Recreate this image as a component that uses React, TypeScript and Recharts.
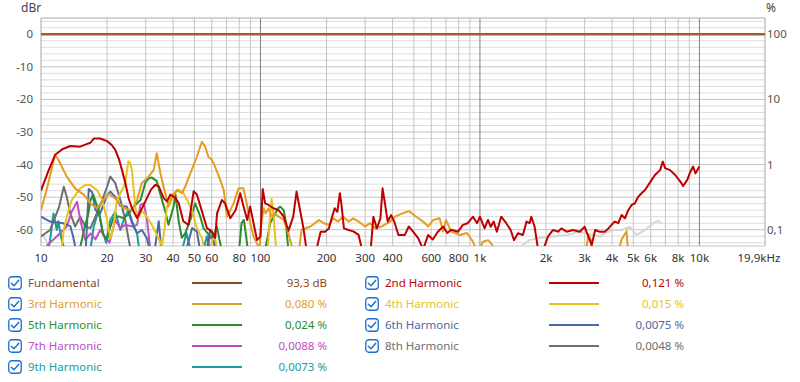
import React from 'react';
import { LineChart, Line, XAxis, YAxis, ReferenceLine } from 'recharts';

const FONT = '"Noto Sans", "Open Sans", sans-serif';

// ---- axes ----
const xTicks = [10, 20, 30, 40, 50, 60, 80, 100, 200, 300, 400, 600, 800, 1000, 2000, 3000, 4000, 5000, 6000, 8000, 10000, 19900];
const xTickLabels = ['10', '20', '30', '40', '50', '60', '80', '100', '200', '300', '400', '600', '800', '1k', '2k', '3k', '4k', '5k', '6k', '8k', '10k', '19,9kHz'];
const yTicks = [0, -10, -20, -30, -40, -50, -60];
const pctTicks = [0, -20, -40, -60];
const pctLabels = ['100', '10', '1', '0,1'];
const freqGrid = [20, 30, 40, 50, 60, 70, 80, 90, 200, 300, 400, 500, 600, 700, 800, 900, 2000, 3000, 4000, 5000, 6000, 7000, 8000, 9000];
const decadeGrid = [100, 1000, 10000];
const dbGrid = [4, 2, -2, -4, -6, -8, -12, -14, -16, -18, -22, -24, -26, -28, -32, -34, -36, -38, -42, -44, -46, -48, -52, -54, -56, -58, -62, -64];
const dbMajorGrid = [-10, -20, -30, -40, -50, -60];

// ---- series ----
const fundFreq = [10, 19900];
const fundDb = [0, 0];

const h2Freq = [10, 10.8, 11.6, 12.5, 13.6, 15.1, 16, 16.8, 17.4, 18.6, 20, 21, 21.8, 22.7, 23.4, 24.2, 25.1, 26, 27.4, 29.4, 31.7, 33.2, 34.4, 36.2, 37.5, 38.9, 41, 42.4, 44.5, 47, 49.6, 51.3, 54.1, 57, 60, 62.2, 63.4, 66.7, 69, 72.9, 77, 80.9, 83, 87, 89.8, 93, 96.5, 99.9, 102.4, 105, 108.8, 114.5, 121, 127.6, 134.2, 141, 146, 150, 157, 162, 180, 188, 197, 205, 212, 218, 224, 230, 234, 240, 252, 265, 280, 290, 318, 327, 339, 352, 360, 370, 380, 394, 407, 425, 455, 474, 495, 523, 551, 581, 610, 643, 680, 710, 740, 795, 836, 880, 930, 970, 1000, 1050, 1088, 1120, 1155, 1194, 1250, 1318, 1380, 1430, 1490, 1570, 1630, 1683, 1713, 1775, 1840, 1950, 2040, 2150, 2270, 2350, 2480, 2660, 2850, 3000, 3120, 3230, 3350, 3500, 3700, 3850, 3980, 4120, 4270, 4420, 4580, 4740, 4910, 5080, 5260, 5450, 5650, 5850, 6060, 6270, 6620, 6810, 6980, 7350, 7760, 8200, 8430, 8800, 9100, 9360, 9600, 10000];
const h2Db = [-48, -42, -37, -35.3, -34.3, -34.5, -33.8, -33.3, -32, -32, -32.8, -34, -35.5, -38.5, -41.7, -45.5, -50.5, -53.5, -56.4, -52.3, -47.7, -46.2, -46.7, -50.3, -51.3, -49.2, -50.3, -51.8, -57.4, -58.5, -48.2, -49.2, -54.3, -59.5, -60.5, -62.5, -55, -50.9, -51.9, -56.5, -54, -48.8, -51.9, -57, -52.9, -58, -63.2, -62.1, -47.5, -51.9, -52.4, -53.4, -54, -56, -60.3, -56, -48.3, -52.4, -59.6, -66, -66, -60.6, -60.6, -59.6, -56, -53.4, -54.5, -48.8, -52.4, -59.6, -60.1, -60.5, -61.6, -66, -66, -56, -59.6, -56.5, -47.3, -52.4, -57.5, -55.5, -57.5, -61.6, -61.6, -59, -60.5, -62.6, -66, -61.6, -63, -60.6, -59, -61, -60, -60.6, -58.5, -58, -56, -58, -56, -59.6, -57, -59.1, -57.5, -60.6, -56, -58, -60.1, -63.2, -61.1, -61.6, -57.5, -58, -56, -59.1, -66, -66, -62.1, -60.1, -60.6, -59.6, -60.6, -60.1, -60.6, -59.1, -62.1, -64.7, -60.1, -60.6, -60.6, -59.6, -58.5, -57.5, -58, -55.5, -56.5, -54, -52.4, -51.9, -49.9, -48.8, -47.8, -46.3, -44.7, -43.2, -41.7, -39.1, -41.1, -41.7, -43.2, -45.3, -46.6, -44.7, -42.2, -40.6, -42.7, -40.6];

const h3Freq = [10, 10.7, 11.3, 11.6, 12, 13.1, 14.3, 15.7, 16.8, 18, 19.3, 20.3, 21.8, 23.4, 24.6, 26, 27.4, 28.8, 30.9, 32.6, 33.7, 35, 36.2, 38.1, 39.5, 41.6, 43.8, 45.4, 47.9, 51.3, 54.1, 56, 57.9, 60, 62.2, 65.6, 68, 69.2, 70.3, 72.9, 75.4, 79.5, 83.6, 86.6, 89.8, 93, 96.3, 99, 101, 103.4, 105.5, 108.8, 112.4, 116, 121, 127.6, 134, 140, 150, 154, 169, 185, 194, 205, 215, 226, 238, 252, 265, 280, 300, 316, 333, 357, 390, 410, 443, 475, 500, 551, 581, 613, 655, 680, 700, 740, 810, 873, 930, 960, 1000, 1030, 1090, 1125, 1165, 3050, 3120, 3200, 3260, 4300, 4420, 4560, 4660, 4720];
const h3Db = [-54, -46.8, -40, -37, -38.5, -43.7, -47.3, -49.3, -51.9, -53.4, -50.9, -49, -50.4, -52.9, -53.7, -54, -50.9, -45.7, -43.7, -41.7, -36.5, -42.7, -46.8, -52.9, -50.4, -47.8, -48.8, -46.8, -42.7, -37.6, -33, -34.5, -37.6, -38.5, -40.8, -44.7, -47.8, -51.9, -56, -54, -51.9, -47.3, -47.3, -51.9, -58, -62.1, -64.2, -66, -58, -53.4, -55, -53.4, -56, -55, -56, -57, -61, -66, -66, -60, -59, -57, -58, -58.5, -56.5, -57.5, -56, -57.5, -56.5, -57.5, -59, -58, -59.6, -59, -57.5, -56, -55, -54.3, -55.5, -57.5, -59, -57, -56.5, -60.6, -57, -60.6, -61.6, -61, -63.7, -66, -66, -63.7, -63.2, -64.2, -66, -66, -61.5, -63, -66, -66, -63, -61.5, -60.5, -66];

const h4Freq = [10, 12.4, 12.7, 13.1, 13.8, 15.1, 15.9, 16.8, 18, 19, 20, 20.7, 21.4, 22.2, 23.4, 24.2, 25, 25.5, 26, 26.9, 27.8, 28.8, 29.9, 32, 34, 35.6, 36.5, 37.5, 39.5, 42.4, 44.5, 46.5, 48.8, 51.3, 54.1, 55.5, 59, 60.5, 62, 63.5, 108, 110, 112.4, 114.5, 116, 118, 200];
const h4Db = [-70, -66, -60, -56, -50.9, -47.3, -46.3, -46.3, -47.8, -50.9, -57, -62.6, -59, -50.9, -47.8, -45.7, -39, -39.5, -42.1, -53.3, -56.4, -54.3, -55.4, -58.5, -62, -65, -60, -53, -49.2, -47.7, -48.7, -51, -54.3, -59.5, -62.5, -66, -66, -63, -62.5, -66, -66, -58, -50.5, -55, -60, -66, -70];

const h5Freq = [10, 15, 15.3, 15.9, 16.4, 16.8, 17.3, 17.9, 18.6, 19.2, 20, 20.6, 21.4, 22.5, 23.7, 25, 26, 28.4, 29.9, 31, 32, 33.7, 35, 36.8, 38.1, 40.2, 41, 42.4, 43.8, 45.4, 47.9, 50.4, 53.2, 55, 59, 61, 63.3, 65, 66.5, 80, 82, 84, 86, 87.5, 105, 108, 110.6, 116, 120, 123, 127.6, 130, 132, 134, 200];
const h5Db = [-70, -66, -63.6, -58.5, -55.4, -50.9, -49.2, -52.3, -56.4, -61.5, -63, -59.5, -56.4, -55.9, -56.4, -55.4, -53.4, -50.9, -45.5, -44.2, -44, -45.1, -49.2, -54.3, -58.5, -52.8, -49.2, -57.4, -62.5, -61.1, -57, -51.9, -56, -59.5, -62.1, -62, -59, -63, -66, -66, -58, -57, -62, -66, -66, -62, -58, -55.5, -53.5, -52.9, -54, -57, -61.6, -66, -70];

const h6Freq = [10, 11, 12.6, 13.6, 14, 14.4, 16, 16.5, 17.1, 17.7, 18.6, 20, 20.7, 21.8, 23, 24.6, 26, 27.4, 28.8, 30.4, 31.2, 33, 34.4, 35.3, 46, 48.8, 51.3, 53, 57, 59, 61, 62.5, 200];
const h6Db = [-56, -57.5, -58, -58.9, -62, -66, -66, -47.5, -48.5, -54, -55, -49.3, -48.3, -49.9, -52.7, -52.9, -58, -61.1, -60.1, -62.6, -66, -66, -57.4, -66, -66, -59.5, -60.5, -66, -66, -60, -62, -66, -70];

const h7Freq = [10, 10.7, 11.8, 13.1, 13.8, 14.6, 15.1, 15.9, 16.8, 17.7, 18.6, 19.5, 20.5, 21.8, 23, 24.2, 26, 27.4, 28.4, 29.4, 30.4, 31.5, 57, 59, 61, 62, 200];
const h7Db = [-70, -64.7, -62.1, -59, -54.5, -51.4, -57, -63.2, -61.1, -63, -60.1, -62, -64, -57, -59.6, -58.5, -59, -58.5, -52.4, -51.9, -57, -66, -66, -62, -63, -66, -70];

const h8Freq = [10, 11, 12.1, 12.7, 13.1, 13.6, 14.3, 15.1, 15.9, 16.8, 17.7, 19, 20, 20.7, 21.8, 23, 24.2, 25, 25.6, 200];
const h8Db = [-62.1, -60.1, -52.9, -46.8, -49.9, -55, -59, -56, -59, -59.5, -56, -50.9, -46.8, -43.7, -45.7, -50.9, -57, -62.5, -66, -70];

const h9Freq = [10, 10.8, 11, 11.4, 11.8, 12, 12.4, 12.8, 16.8, 17.4, 18.3, 19, 19.8, 20.7, 21.8, 23, 23.8, 25, 26.2, 27.4, 28, 44, 46, 48, 55, 57, 59, 200];
const h9Db = [-70, -66, -63.2, -55, -60.1, -57.4, -63, -66, -66, -59, -54, -60.1, -64, -57, -54.5, -60.1, -57, -54, -58, -61.1, -66, -66, -61, -66, -66, -62, -66, -70];

const hxFreq = [10, 10.5, 11, 12, 1400, 1500, 1570, 1683, 1840, 2150, 2480, 2850, 3200, 3500, 3700, 4050, 4420, 4830, 5170, 5650, 6170, 6500, 6740];
const hxDb = [-61, -63, -66, -70, -70, -66, -64.7, -63.2, -62.6, -62.1, -61.6, -60.6, -61.5, -62.1, -61.1, -60.1, -60.1, -59.1, -61.6, -60.1, -58, -57.2, -58.3];

const toData = (fs: number[], vs: number[]) => fs.map((f, i) => ({ f, v: vs[i] }));

const series = [
  { key: 'hx', color: '#d6d6d6', data: toData(hxFreq, hxDb), w: 2 },
  { key: 'h9', color: '#1a9c9c', data: toData(h9Freq, h9Db), w: 2 },
  { key: 'h8', color: '#6e6e6e', data: toData(h8Freq, h8Db), w: 2 },
  { key: 'h7', color: '#c64fc6', data: toData(h7Freq, h7Db), w: 2 },
  { key: 'h6', color: '#4a69a8', data: toData(h6Freq, h6Db), w: 2 },
  { key: 'h5', color: '#2c8c2c', data: toData(h5Freq, h5Db), w: 2 },
  { key: 'h4', color: '#e6c41c', data: toData(h4Freq, h4Db), w: 2 },
  { key: 'h3', color: '#e49d1f', data: toData(h3Freq, h3Db), w: 2 },
  { key: 'h2', color: '#c00000', data: toData(h2Freq, h2Db), w: 2 },
  { key: 'fund', color: '#a95a26', data: toData(fundFreq, fundDb), w: 2.5 },
];

// ---- legend ----
const legendLeft = [
  { name: 'Fundamental', value: '93,3 dB', color: '#8b4a1c', line: '#8b4a1c' },
  { name: '3rd Harmonic', value: '0,080 %', color: '#e0a030', line: '#e0a030' },
  { name: '5th Harmonic', value: '0,024 %', color: '#2c8c2c', line: '#2c8c2c' },
  { name: '7th Harmonic', value: '0,0088 %', color: '#c04dc0', line: '#c04dc0' },
  { name: '9th Harmonic', value: '0,0073 %', color: '#1a9c9c', line: '#1a9c9c' },
];
const legendRight = [
  { name: '2nd Harmonic', value: '0,121 %', color: '#c00000', line: '#c00000' },
  { name: '4th Harmonic', value: '0,015 %', color: '#e6c41c', line: '#e6c41c' },
  { name: '6th Harmonic', value: '0,0075 %', color: '#4a69a8', line: '#4a69a8' },
  { name: '8th Harmonic', value: '0,0048 %', color: '#6e6e6e', line: '#6e6e6e' },
];

const CheckBox = () => (
  <svg width={14} height={14} viewBox="0 0 14 14" style={{ position: 'absolute', left: 0, top: 0 }}>
    <rect x={0.75} y={0.75} width={12.5} height={12.5} rx={3} fill="#fff" stroke="#1b6fd0" strokeWidth={1.3} />
    <path d="M3.3 7.2 L6 9.8 L10.8 4.3" fill="none" stroke="#1b6fd0" strokeWidth={1.4} strokeLinecap="round" strokeLinejoin="round" />
  </svg>
);

type Item = { name: string; value: string; color: string; line: string };

const LegendRow = ({ item, left, top }: { item: Item; left: number; top: number }) => (
  <div style={{ position: 'absolute', left, top, width: 320, height: 20 }}>
    <div style={{ position: 'absolute', left: 0, top: 3 }}><CheckBox /></div>
    <div style={{ position: 'absolute', left: 20, top: 0, fontSize: 11.5, lineHeight: '20px', color: item.color, whiteSpace: 'nowrap' }}>{item.name}</div>
    <div style={{ position: 'absolute', left: 184, top: 9, width: 50, height: 2, background: item.line }} />
    <div style={{ position: 'absolute', left: 220, width: 99, top: 0, fontSize: 11.5, lineHeight: '20px', color: item.color, textAlign: 'right', whiteSpace: 'nowrap' }}>{item.value}</div>
  </div>
);

const XTick = (props: any) => {
  const { x, y, payload } = props;
  const i = xTicks.indexOf(payload.value);
  const last = i === xTicks.length - 1;
  return (
    <text x={x} y={y} dx={last ? -6 : 0} dy="0.71em" textAnchor="middle" fontSize={11.5} fill="#333" fontFamily={FONT}>
      {xTickLabels[i]}
    </text>
  );
};

const LTick = (props: any) => {
  const { x, y, payload } = props;
  return (
    <text x={x} y={y} dy="0.35em" textAnchor="end" fontSize={11.5} fill="#555" fontFamily={FONT}>
      {String(payload.value)}
    </text>
  );
};

const RTick = (props: any) => {
  const { x, y, payload } = props;
  const i = pctTicks.indexOf(payload.value);
  return (
    <text x={x} y={y} dy="0.35em" textAnchor="start" fontSize={11.5} fill="#555" fontFamily={FONT}>
      {pctLabels[i]}
    </text>
  );
};

export default function App() {
  return (
    <div style={{ position: 'absolute', left: 0, top: 0, width: 800, height: 382, background: '#fff', fontFamily: FONT, overflow: 'hidden' }}>
      <div style={{ position: 'absolute', left: 21, top: 0, fontSize: 12, lineHeight: '16px', color: '#444' }}>dBr</div>
      <div style={{ position: 'absolute', left: 766, top: 0, fontSize: 12, lineHeight: '16px', color: '#444' }}>%</div>
      <div style={{ position: 'absolute', left: 0, top: 0 }}>
        <LineChart width={800} height={270} margin={{ top: 18, right: 0, bottom: 0, left: 0 }}>
          <XAxis
            dataKey="f"
            type="number"
            scale="log"
            domain={[10, 19900]}
            allowDataOverflow
            ticks={xTicks}
            interval={0}
            tick={<XTick />}
            tickLine={false}
            axisLine={false}
            height={24}
            tickSize={6}
            tickMargin={2}
          />
          <YAxis
            yAxisId="db"
            type="number"
            domain={[-65, 5]}
            allowDataOverflow
            ticks={yTicks}
            interval={0}
            tick={<LTick />}
            tickLine={false}
            axisLine={false}
            width={41}
            tickSize={0}
            tickMargin={8}
          />
          <YAxis
            yAxisId="pct"
            orientation="right"
            type="number"
            domain={[-65, 5]}
            allowDataOverflow
            ticks={pctTicks}
            interval={0}
            tick={<RTick />}
            tickLine={false}
            axisLine={false}
            width={35}
            tickSize={0}
            tickMargin={2}
          />
          {dbGrid.map((d) => (
            <ReferenceLine key={'hg' + d} yAxisId="db" y={d} stroke="#dcdcdc" strokeWidth={1} />
          ))}
          {dbMajorGrid.map((d) => (
            <ReferenceLine key={'hm' + d} yAxisId="db" y={d} stroke="#c4c4c4" strokeWidth={1} />
          ))}
          {freqGrid.map((f) => (
            <ReferenceLine key={'vg' + f} yAxisId="db" x={f} stroke="#c4c4c4" strokeWidth={1} />
          ))}
          {decadeGrid.map((f) => (
            <ReferenceLine key={'vd' + f} yAxisId="db" x={f} stroke="#808080" strokeWidth={1} />
          ))}
          <ReferenceLine yAxisId="db" x={10} stroke="#a8a8a8" strokeWidth={1} />
          <ReferenceLine yAxisId="db" x={19900} stroke="#a8a8a8" strokeWidth={1} />
          <ReferenceLine yAxisId="db" y={5} stroke="#a8a8a8" strokeWidth={1} />
          <ReferenceLine yAxisId="db" y={-65} stroke="#c4c4c4" strokeWidth={1} />
          {series.map((s) => (
            <Line
              key={s.key}
              yAxisId="db"
              data={s.data}
              dataKey="v"
              type="linear"
              stroke={s.color}
              strokeWidth={s.w}
              dot={false}
              activeDot={false}
              isAnimationActive={false}
              strokeLinejoin="round"
            />
          ))}
        </LineChart>
      </div>
      {legendLeft.map((it, i) => (
        <LegendRow key={it.name} item={it} left={8} top={273 + i * 21} />
      ))}
      {legendRight.map((it, i) => (
        <LegendRow key={it.name} item={it} left={365} top={273 + i * 21} />
      ))}
    </div>
  );
}
